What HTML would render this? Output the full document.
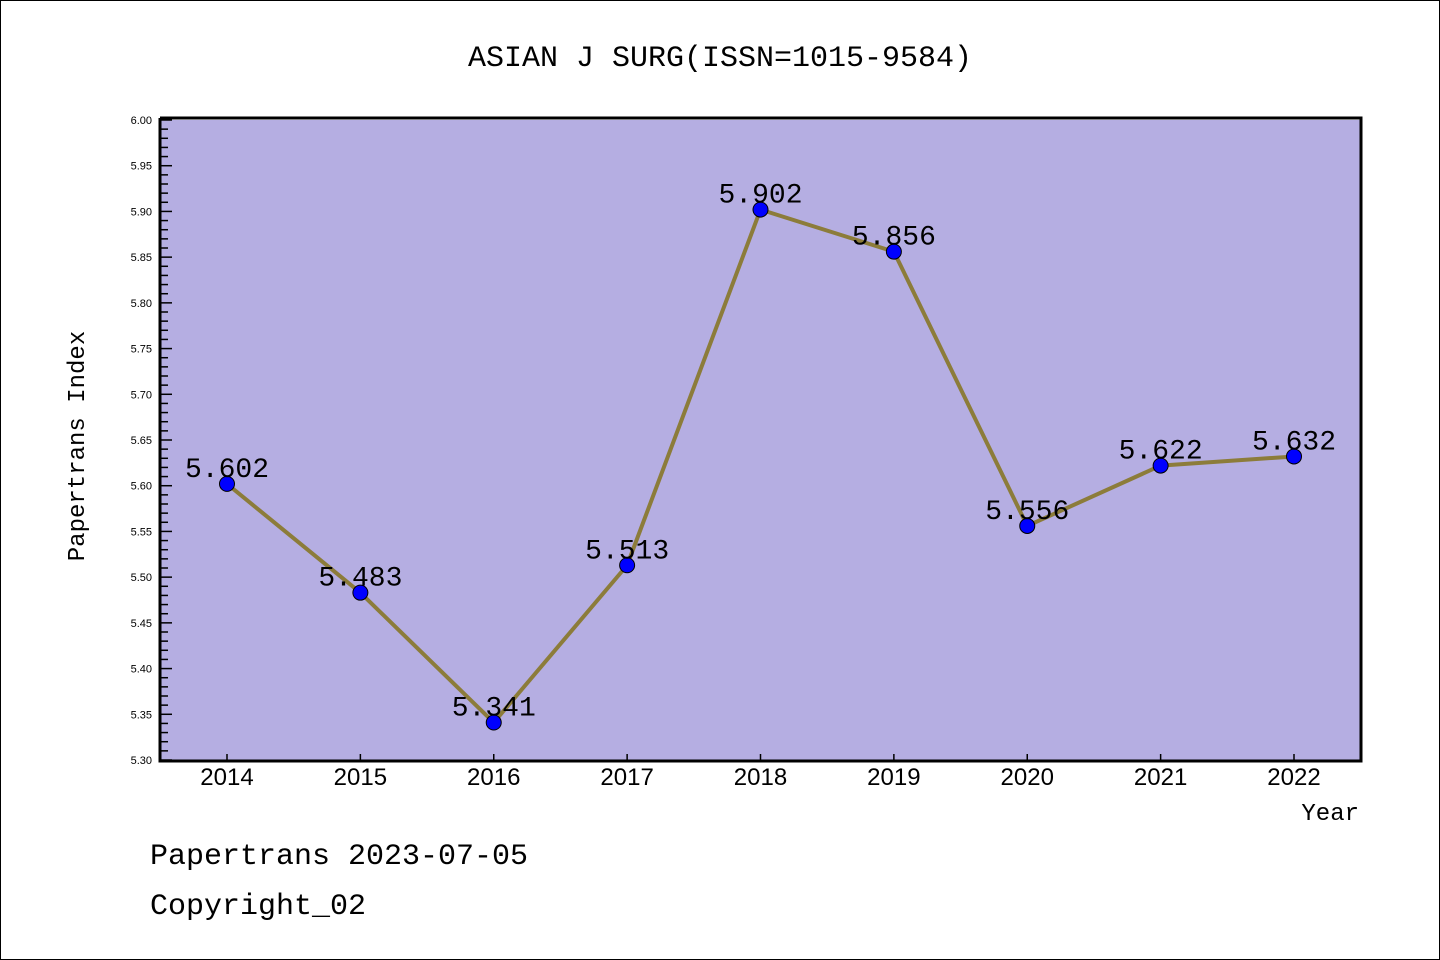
<!DOCTYPE html>
<html><head><meta charset="utf-8"><style>
body{margin:0;background:#fff}
svg{display:block;font-family:"Liberation Mono","DejaVu Sans Mono",monospace}
</style></head><body>
<svg id="c" width="1440" height="960">
<rect x="0.5" y="0.5" width="1439" height="959" fill="#fff" stroke="#000"/>
<text x="720" y="66" text-anchor="middle" font-size="30">ASIAN J SURG(ISSN=1015-9584)</text>
<rect x="160" y="120" width="1201" height="640" fill="#b5aee2"/>
<g id="ticks"></g>
<g id="series"></g>
<path d="M160,118 V761 H1361 V118 H160" fill="none" stroke="#000" stroke-width="3"/>
<text transform="translate(84,446) rotate(-90)" text-anchor="middle" font-size="24">Papertrans Index</text>
<text x="1359" y="820" text-anchor="end" font-size="24">Year</text>
<text x="150" y="864" font-size="30">Papertrans 2023-07-05</text>
<text x="150" y="914" font-size="30">Copyright_02</text>
</svg>
<script>
const years = [2014,2015,2016,2017,2018,2019,2020,2021,2022];
const values = [5.602,5.483,5.341,5.513,5.902,5.856,5.556,5.622,5.632];
const valueLabels = ["5.602","5.483","5.341","5.513","5.902","5.856","5.556","5.622","5.632"];
const yTickLabels = ["5.30","5.35","5.40","5.45","5.50","5.55","5.60","5.65","5.70","5.75","5.80","5.85","5.90","5.95","6.00"];
const yMin = 5.30, yMax = 6.00;
const NS = "http://www.w3.org/2000/svg";
function yS(v){return 760 - (v - yMin) / (yMax - yMin) * 640;}
function xS(yr){return 227 + (yr - years[0]) * (1294 - 227) / (years[years.length-1] - years[0]);}
function mk(tag, attrs, parent){const e=document.createElementNS(NS,tag);for(const k in attrs)e.setAttribute(k,attrs[k]);parent.appendChild(e);return e;}
const tg = document.getElementById('ticks');
for (let i = 0; i <= 70; i++) {
  const v = yMin + i * 0.01, y = yS(v), major = i % 5 === 0;
  const t = mk('line', {x1:160, x2: major ? 172 : 168, y1:y, y2:y, stroke:'#000', 'stroke-width':1.5}, tg);
  
  
}
yTickLabels.forEach(l => {
  const t = mk('text', {x:152, y:yS(parseFloat(l)) + 4, 'text-anchor':'end', 'font-size':11, 'font-family':'Liberation Sans, sans-serif'}, tg);
  t.textContent = l;
  
  
});
years.forEach(yr => {
  const x = xS(yr);
  const t = mk('line', {x1:x, x2:x, y1:760, y2:754, stroke:'#000', 'stroke-width':1.5}, tg);
  
  
  const l = mk('text', {x:x, y:785, 'text-anchor':'middle', 'font-size':24, 'font-family':'Liberation Sans, sans-serif'}, tg);
  l.textContent = yr;
  
  
});
const sg = document.getElementById('series');
const line = mk('polyline', {points: years.map((yr,i)=>xS(yr)+','+yS(values[i])).join(' '), fill:'none', stroke:'#8c7c3a', 'stroke-width':4, 'stroke-linejoin':'round'}, sg);


years.forEach((yr, i) => {
  const c = mk('circle', {cx:xS(yr), cy:yS(values[i]), r:7.5, fill:'#0000ff', stroke:'#000', 'stroke-width':1}, sg);
  
  
  const t = mk('text', {x:xS(yr), y:yS(values[i]) - 7, 'text-anchor':'middle', 'font-size':28}, sg);
  t.textContent = valueLabels[i];
  
  
});
</script>
</body></html>
